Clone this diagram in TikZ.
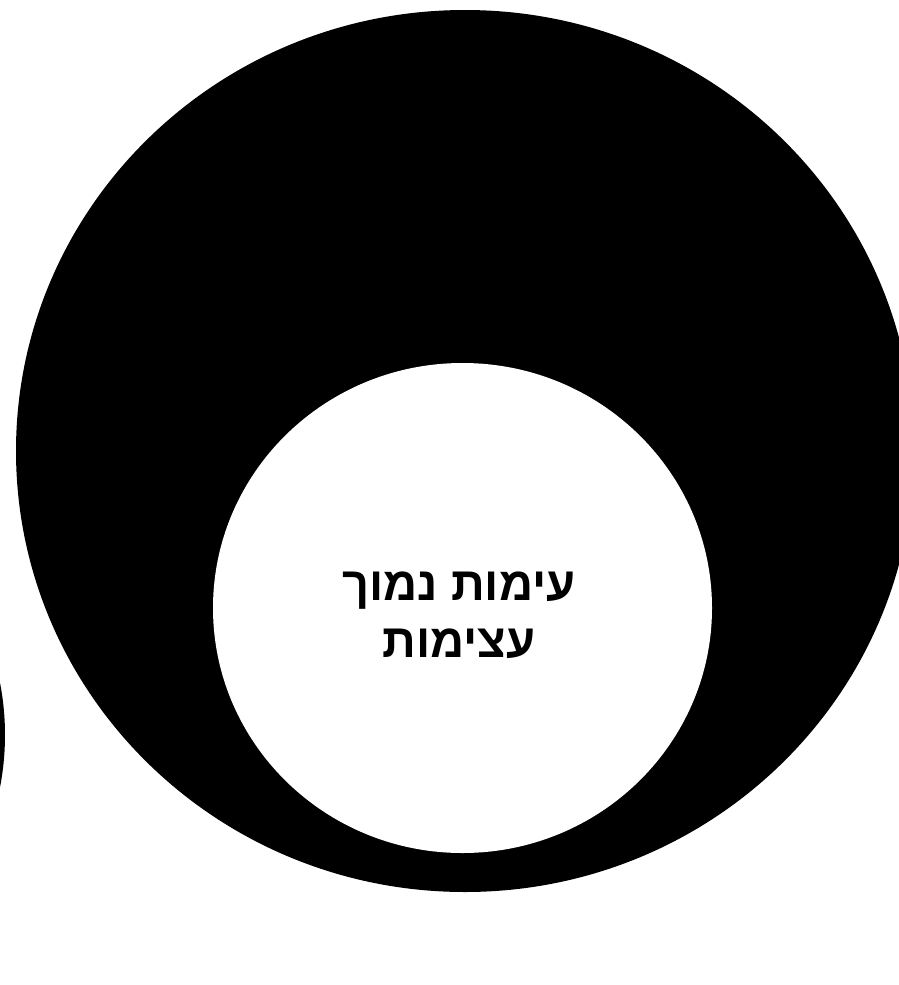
\documentclass[tikz,border=0pt]{standalone}
\usepackage{fontspec}
\usetikzlibrary{shapes.geometric}
\newfontfamily\hebfont[Script=Hebrew]{Liberation Sans}
\TeXXeTstate=1

\begin{document}
\begin{tikzpicture}[
    x=1pt, y=-1pt,
    disc/.style={ellipse, fill=black, inner sep=0pt},
    hole/.style={ellipse, fill=white, inner sep=0pt},
    heblabel/.style={align=center, inner sep=0pt, font=\hebfont\bfseries\fontsize{47}{57}\selectfont},
]
    \useasboundingbox (0,0) rectangle (899,985);
    \clip (0,0) rectangle (899,985);
    \fill[white] (0,0) rectangle (899,985);

    \node[disc, minimum width=898pt, minimum height=882pt] (outer) at (465,451) {};
    \node[disc, minimum width=546pt, minimum height=546pt] (side) at (-268,735) {};
    \node[hole, minimum width=499pt, minimum height=490pt] (inner) at (462.5,608) {};

    \node[heblabel] (txt) at (459,615) {\beginR עימות נמוך\endR\\\beginR עצימות\endR};
\end{tikzpicture}
\end{document}
